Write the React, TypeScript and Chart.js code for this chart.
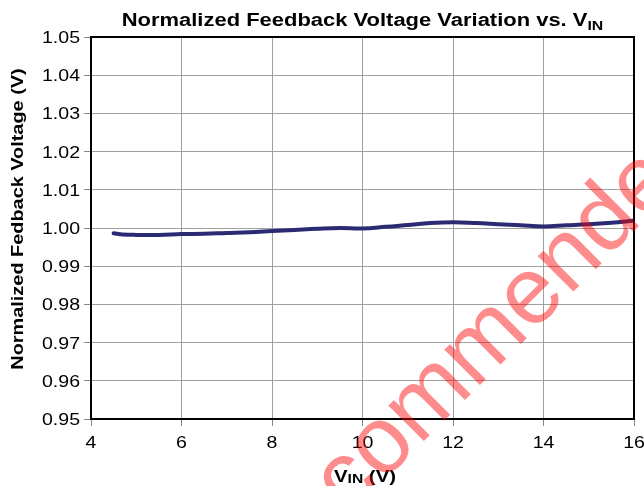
import React, { useEffect, useRef } from "react";
import { Chart, registerables } from "chart.js";

Chart.register(...registerables);

const vin: number[] = [4.5, 4.7, 5.0, 5.5, 6.0, 6.5, 7.0, 7.5, 8.0, 8.5, 9.0, 9.5, 10.0, 10.5, 11.0, 11.5, 12.0, 12.5, 13.0, 13.5, 14.0, 14.5, 15.0, 15.5, 16.0];
const vfb: number[] = [0.9986, 0.9983, 0.9982, 0.9982, 0.9984, 0.9985, 0.9987, 0.9989, 0.9992, 0.9995, 0.9998, 1.0, 0.9999, 1.0003, 1.0008, 1.0013, 1.0015, 1.0013, 1.001, 1.0007, 1.0004, 1.0007, 1.001, 1.0014, 1.0019];
const yTickMin = 0.95;
const yTickMax = 1.05;
const yStep = 0.01;
const xTickMin = 4;
const xTickMax = 16;
const xStep = 2;
const titleMain = "Normalized Feedback Voltage Variation vs. V";
const titleSub = "IN";
const yTitle = "Normalized Fedback Voltage (V)";
const xTitleParts = ["V", "IN", " (V)"];
const watermark = "Not Recommended for New Designs";

const FONT = "'Liberation Sans', Arial, Helvetica, sans-serif";

function stretchText(ctx: CanvasRenderingContext2D, txt: string, x: number, y: number, font: string, sx: number, align: string) {
  ctx.save();
  ctx.font = font;
  ctx.textAlign = "left";
  const w = ctx.measureText(txt).width * sx;
  let x0 = x;
  if (align === "center") x0 = x - w / 2;
  else if (align === "right") x0 = x - w;
  ctx.translate(x0, y);
  ctx.scale(sx, 1);
  ctx.fillText(txt, 0, 0);
  ctx.restore();
  return w;
}

function measure(ctx: CanvasRenderingContext2D, txt: string, font: string, sx: number) {
  ctx.save();
  ctx.font = font;
  const w = ctx.measureText(txt).width * sx;
  ctx.restore();
  return w;
}

const decorPlugin = {
  id: "decor",
  afterDraw(chart: any) {
    const ctx = chart.ctx as CanvasRenderingContext2D;
    const a = chart.chartArea;
    ctx.save();
    ctx.strokeStyle = "#000";
    ctx.lineWidth = 2;
    ctx.strokeRect(a.left, a.top, a.right - a.left, a.bottom - a.top);

    ctx.fillStyle = "#000";
    ctx.textBaseline = "alphabetic";

    const tickFont = `17px ${FONT}`;
    const sxT = 1.15;
    const ys = chart.scales.y;
    ys.ticks.forEach((t: any) => {
      const py = ys.getPixelForValue(t.value);
      stretchText(ctx, Number(t.value).toFixed(2), 80, py + 6, tickFont, sxT, "right");
    });
    const xsc = chart.scales.x;
    xsc.ticks.forEach((t: any) => {
      const px = xsc.getPixelForValue(t.value);
      stretchText(ctx, String(t.value), px, 448, tickFont, sxT, "center");
    });

    const cx = (a.left + a.right) / 2;
    const tf = `bold 18px ${FONT}`;
    const tfs = `bold 13px ${FONT}`;
    const sxTitle = 1.22;
    const w1 = measure(ctx, titleMain, tf, sxTitle);
    const w2 = measure(ctx, titleSub, tfs, sxTitle);
    const x0 = cx - (w1 + w2) / 2;
    stretchText(ctx, titleMain, x0, 26, tf, sxTitle, "left");
    stretchText(ctx, titleSub, x0 + w1, 30, tfs, sxTitle, "left");

    const xf = `bold 17px ${FONT}`;
    const xfs = `bold 13px ${FONT}`;
    const sxX = 1.2;
    const b1 = measure(ctx, xTitleParts[0], xf, sxX);
    const b2 = measure(ctx, xTitleParts[1], xfs, sxX);
    const b3 = measure(ctx, xTitleParts[2], xf, sxX);
    const xs0 = 365 - (b1 + b2 + b3) / 2;
    stretchText(ctx, xTitleParts[0], xs0, 482, xf, sxX, "left");
    stretchText(ctx, xTitleParts[1], xs0 + b1, 483, xfs, sxX, "left");
    stretchText(ctx, xTitleParts[2], xs0 + b1 + b2, 482, xf, sxX, "left");

    ctx.save();
    ctx.translate(23, 219);
    ctx.rotate(-Math.PI / 2);
    stretchText(ctx, yTitle, 0, 0, `bold 17px ${FONT}`, 1.17, "center");
    ctx.restore();
    ctx.restore();

    ctx.save();
    const ang = (-45 * Math.PI) / 180;
    ctx.font = `95px ${FONT}`;
    const pre = ctx.measureText("Not Rec").width;
    const px = 382, py = 483;
    const ox = px - pre * Math.cos(ang);
    const oy = py - pre * Math.sin(ang);
    ctx.translate(ox, oy);
    ctx.rotate(ang);
    ctx.fillStyle = "rgba(255,0,0,0.45)";
    ctx.textAlign = "left";
    ctx.textBaseline = "alphabetic";
    ctx.fillText(watermark, 0, 0);
    ctx.restore();
  },
};

export default function App() {
  const ref = useRef<HTMLCanvasElement>(null);
  useEffect(() => {
    if (!ref.current) return;
    const chart = new Chart(ref.current, {
      type: "line",
      data: {
        datasets: [
          {
            data: vin.map((x, i) => ({ x, y: vfb[i] })),
            borderColor: "#2b2b73",
            borderWidth: 4,
            pointRadius: 0,
            tension: 0.4,
            borderCapStyle: "round",
            fill: false,
          },
        ],
      },
      options: {
        responsive: false,
        animation: false,
        layout: { padding: { left: 0, right: 10, top: 37, bottom: 0 } },
        plugins: { legend: { display: false }, title: { display: false }, tooltip: { enabled: false } },
        scales: {
          x: {
            type: "linear",
            min: xTickMin,
            max: xTickMax,
            ticks: { stepSize: xStep, display: false },
            grid: { color: "#a0a0a0", lineWidth: 1, tickLength: 7, tickColor: "#888" },
            border: { color: "#000", width: 2 },
            afterFit: (s: any) => { s.height = 67; },
          },
          y: {
            min: yTickMin,
            max: yTickMax,
            ticks: { stepSize: yStep, display: false },
            grid: { color: "#a0a0a0", lineWidth: 1, tickLength: 7, tickColor: "#888" },
            border: { color: "#000", width: 2 },
            afterFit: (s: any) => { s.width = 91; },
          },
        },
      },
      plugins: [decorPlugin],
    });
    return () => chart.destroy();
  }, []);
  return (
    <div style={{ position: "fixed", left: 0, top: 0, width: 644, height: 486, background: "#fff" }}>
      <canvas ref={ref} width={644} height={486} style={{ width: 644, height: 486 }} />
    </div>
  );
}
